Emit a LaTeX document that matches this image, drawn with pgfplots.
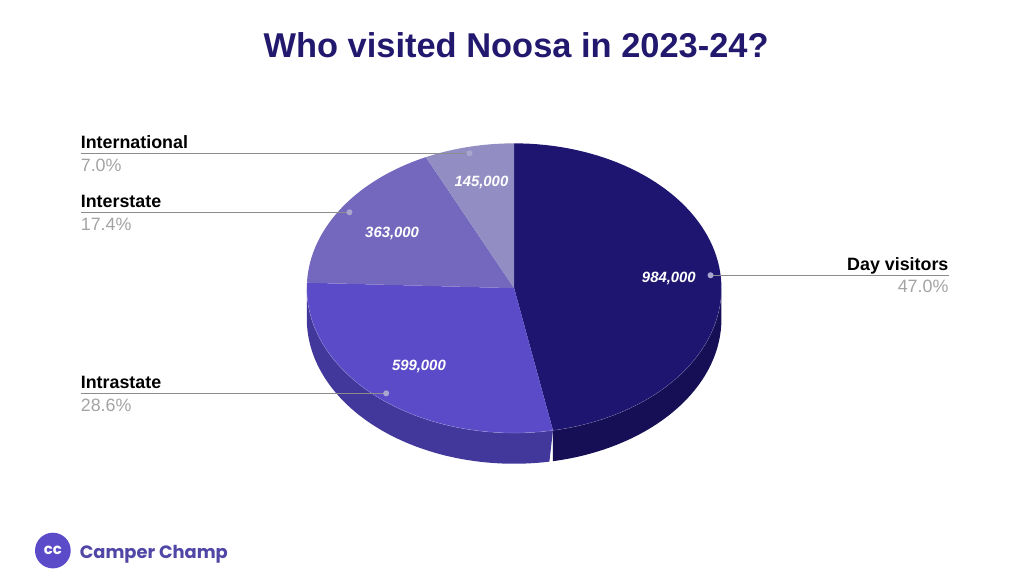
\documentclass[border=0pt]{standalone}
\usepackage{pgfplots}
\usepackage{pgfplotstable}
\pgfplotsset{compat=1.18}
\usepackage{fontspec}
\setmainfont{Liberation Sans}
\newfontfamily\logofont{Poppins}

\definecolor{titleC}{HTML}{22196E}
\definecolor{dayTop}{HTML}{1E1570}
\definecolor{daySide}{HTML}{160F55}
\definecolor{intraTop}{HTML}{5B4BC8}
\definecolor{intraSide}{HTML}{42389B}
\definecolor{interTop}{HTML}{7468BE}
\definecolor{intlTop}{HTML}{928DC2}
\definecolor{leadC}{HTML}{8C8C8C}
\definecolor{dotC}{HTML}{A9A5CF}
\definecolor{pctC}{HTML}{A3A3A3}
\definecolor{logoC}{HTML}{5046A6}

% visitors, share in percent
\pgfplotstableread{
label value pct
Day 984000 47.0
Intrastate 599000 28.6
Interstate 363000 17.4
International 145000 7.0
}\pietable

\newcommand{\lbl}{\fontsize{18bp}{20bp}\selectfont}
\newcommand{\val}{\fontsize{15bp}{17bp}\selectfont\bfseries\itshape\color{white}}

\begin{document}
% slice boundaries, clockwise from 12 o'clock
\pgfplotstablegetelem{0}{pct}\of\pietable
\pgfmathsetmacro\aA{90-3.6*\pgfplotsretval}
\pgfplotstablegetelem{1}{pct}\of\pietable
\pgfmathsetmacro\aB{\aA-3.6*\pgfplotsretval}
\pgfplotstablegetelem{2}{pct}\of\pietable
\pgfmathsetmacro\aC{\aB-3.6*\pgfplotsretval}
\begin{tikzpicture}
\begin{axis}[
  at={(0,0)}, anchor=south west,
  scale only axis, width=1024bp, height=582bp,
  xmin=0, xmax=1024, ymin=0, ymax=582,
  y dir=reverse, hide axis, clip=false,
  every axis plot/.append style={draw=none},
]
% side walls
\addplot[fill=daySide, domain=0:2, samples=201]
  ({510+209*cos(x<=1 ? \aA*(1-x) : \aA*(x-1))},
   {290.5-146*sin(x<=1 ? \aA*(1-x) : \aA*(x-1))+(x>1)*31}) -- cycle;
\addplot[fill=intraSide, domain=0:2, samples=201]
  ({510+209*cos(x<=1 ? -180+(\aA+180)*x : \aA-(\aA+180)*(x-1))},
   {290.5-146*sin(x<=1 ? -180+(\aA+180)*x : \aA-(\aA+180)*(x-1))+(x>1)*31}) -- cycle;
% top face
\addplot[fill=dayTop, domain=\aA:90, samples=80]
  ({510+209*cos(x)},{290.5-146*sin(x)}) -- (510,290.5) -- cycle;
\addplot[fill=intraTop, domain=\aB:\aA, samples=60]
  ({510+209*cos(x)},{290.5-146*sin(x)}) -- (510,290.5) -- cycle;
\addplot[fill=interTop, domain=\aC:\aB, samples=40]
  ({510+209*cos(x)},{290.5-146*sin(x)}) -- (510,290.5) -- cycle;
\addplot[fill=intlTop, domain=-270:\aC, samples=20]
  ({510+209*cos(x)},{290.5-146*sin(x)}) -- (510,290.5) -- cycle;
\addplot[draw=white, draw opacity=0.18, line width=0.6bp, domain=-180:0, samples=80]
  ({510+209*cos(x)},{290.5-146*sin(x)});

% leader lines
\pgfplotsset{leader/.style={draw=leadC, line width=1.2bp, mark=*,
  mark options={draw=dotC, fill=dotC}, mark size=2.4bp}}
\addplot[leader, mark indices={2}] coordinates {(73,154.5) (465,154.5)};
\addplot[leader, mark indices={2}] coordinates {(73,214) (344,214)};
\addplot[leader, mark indices={2}] coordinates {(73,396.5) (381,396.5)};
\addplot[leader, mark indices={1}] coordinates {(708,277.5) (948,277.5)};

% labels
\node[anchor=base, font=\fontsize{34.7bp}{40bp}\selectfont\bfseries, text=titleC]
  at (512,58) {Who visited Noosa in 2023-24?};
\node[anchor=base west, font=\lbl\bfseries, inner sep=0pt] at (73,150) {International};
\node[anchor=base west, font=\lbl, text=pctC, inner sep=0pt] at (73,172.5) {7.0\%};
\node[anchor=base west, font=\lbl\bfseries, inner sep=0pt] at (73,209.5) {Interstate};
\node[anchor=base west, font=\lbl, text=pctC, inner sep=0pt] at (73,232) {17.4\%};
\node[anchor=base west, font=\lbl\bfseries, inner sep=0pt] at (73,392) {Intrastate};
\node[anchor=base west, font=\lbl, text=pctC, inner sep=0pt] at (73,414.5) {28.6\%};
\node[anchor=base east, font=\lbl\bfseries, inner sep=0pt] at (948,272.5) {Day visitors};
\node[anchor=base east, font=\lbl, text=pctC, inner sep=0pt] at (948,295) {47.0\%};

\node[anchor=base, font=\val] at (477,188) {145,000};
\node[anchor=base, font=\val] at (387,239) {363,000};
\node[anchor=base, font=\val] at (414,374) {599,000};
\node[anchor=base, font=\val] at (666,285) {984,000};

% logo
\node[circle, fill=intraTop, minimum size=36bp, inner sep=0pt,
  font=\logofont\fontsize{15bp}{16bp}\selectfont\bfseries, text=white] at (45,555) {cc};
\node[anchor=base west, inner sep=0pt, font=\logofont\fontsize{18bp}{21bp}\selectfont\bfseries,
  text=logoC] at (72,563) {Camper Champ};
\end{axis}
\pgfresetboundingbox
\useasboundingbox (0,0) rectangle (1024bp,582bp);
\end{tikzpicture}
\end{document}
